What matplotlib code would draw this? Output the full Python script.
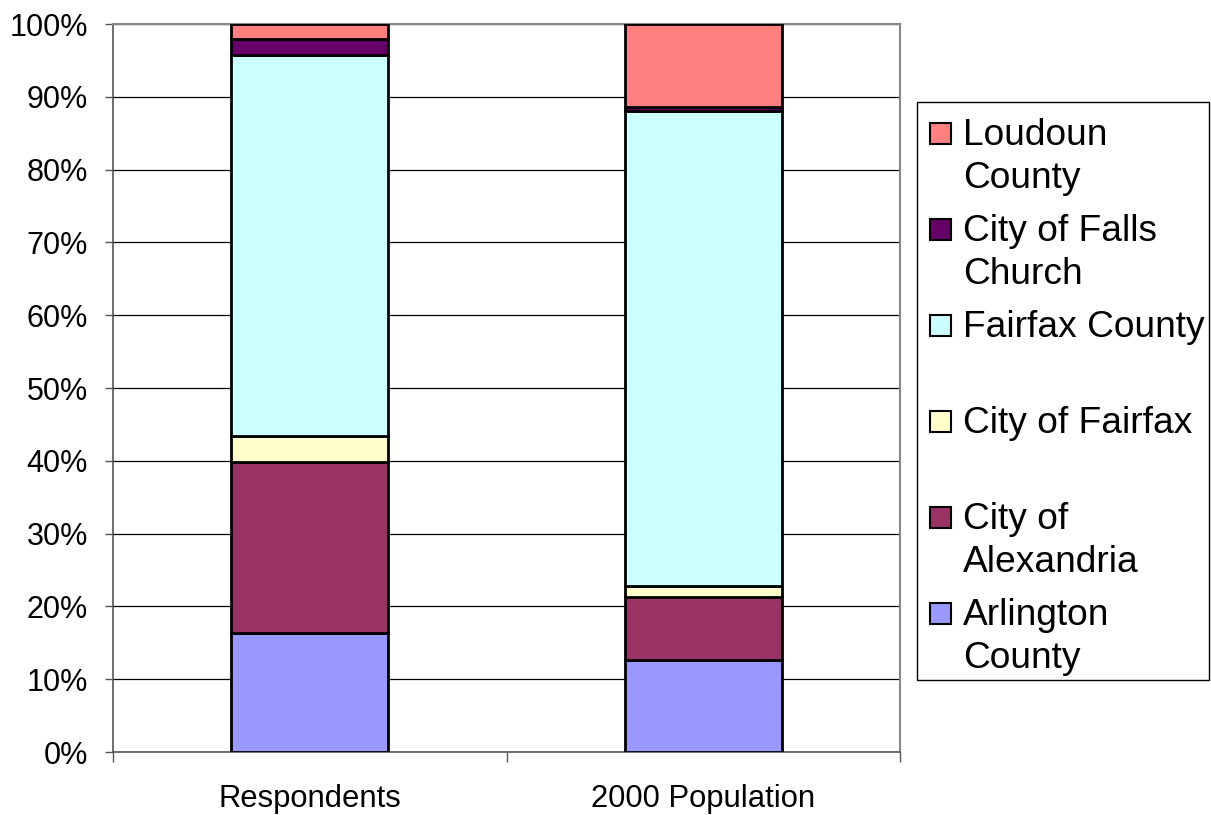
import matplotlib
matplotlib.use("Agg")
import matplotlib.pyplot as plt
from matplotlib.patches import Rectangle
import numpy as np

plt.rcParams['font.family'] = ['Liberation Sans', 'DejaVu Sans']

categories = ["Respondents", "2000 Population"]
series_names = ["Arlington County", "City of Alexandria", "City of Fairfax",
                "Fairfax County", "City of Falls Church", "Loudoun County"]
legend_labels = ["Arlington\nCounty", "City of\nAlexandria", "City of Fairfax",
                 "Fairfax County", "City of Falls\nChurch", "Loudoun\nCounty"]
arlington = [16.3, 12.7]
alexandria = [23.6, 8.6]
city_fairfax = [3.5, 1.5]
fairfax_county = [52.4, 65.3]
falls_church = [2.2, 0.5]
loudoun = [2.0, 11.4]
colors = ["#9999FF", "#993366", "#FFFFCC", "#CCFFFF", "#660066", "#FF8080"]
y_ticks = [0, 10, 20, 30, 40, 50, 60, 70, 80, 90, 100]

values = [arlington, alexandria, city_fairfax, fairfax_county, falls_church, loudoun]

W, H = 1211, 815
fig = plt.figure(figsize=(W / 100, H / 100), dpi=100)
ax = fig.add_axes([113 / W, 1 - 752 / H, (900 - 113) / W, (752 - 24) / H])

x = np.arange(len(categories))
bottom = np.zeros(len(categories))
for vals, col in zip(values, colors):
    vals = np.array(vals)
    ax.bar(x, vals, width=0.40, bottom=bottom, color=col, edgecolor="black",
           linewidth=2.0, zorder=3)
    bottom += vals

ax.set_xlim(-0.5, 1.5)
ax.set_ylim(0, 100)
ax.set_yticks(y_ticks)
ax.set_yticklabels([f"{t}%" for t in y_ticks])
ax.yaxis.grid(True, color="black", linewidth=0.9, zorder=0)
ax.set_axisbelow(True)

# category boundaries carry the tick marks, centers carry the labels
ax.set_xticks([-0.5, 0.5, 1.5])
ax.set_xticklabels([])
ax.set_xticks(x, minor=True)
ax.set_xticklabels(categories, minor=True)
ax.tick_params(axis="x", which="major", length=7, width=1, color="#555555")
ax.tick_params(axis="x", which="minor", length=0, pad=23, labelsize=22.3)
ax.tick_params(axis="y", length=6, width=1, pad=12, labelsize=22, color="#555555")

for side in ("left", "bottom"):
    ax.spines[side].set_color("#555555")
    ax.spines[side].set_linewidth(1.2)
for side in ("top", "right"):
    ax.spines[side].set_color("#888888")
    ax.spines[side].set_linewidth(1.5)

# legend box, entries listed from top of stack down
fig.patches.append(Rectangle((917 / W, 1 - 680 / H), (1209 - 917) / W, (680 - 102) / H,
                             transform=fig.transFigure, facecolor="white",
                             edgecolor="black", linewidth=1.0))
order = list(range(len(series_names)))[::-1]
for i, idx in enumerate(order):
    yc = 133 + 96 * i
    sq = 21
    fig.patches.append(Rectangle((930 / W, 1 - (yc + sq / 2) / H), sq / W, sq / H,
                                 transform=fig.transFigure, facecolor=colors[idx],
                                 edgecolor="black", linewidth=1.5))
    fig.text(963 / W, 1 - (yc - 15) / H, legend_labels[idx], fontsize=26.7,
             va="top", ha="left", linespacing=1.29)

fig.savefig("out.png", dpi=100)
